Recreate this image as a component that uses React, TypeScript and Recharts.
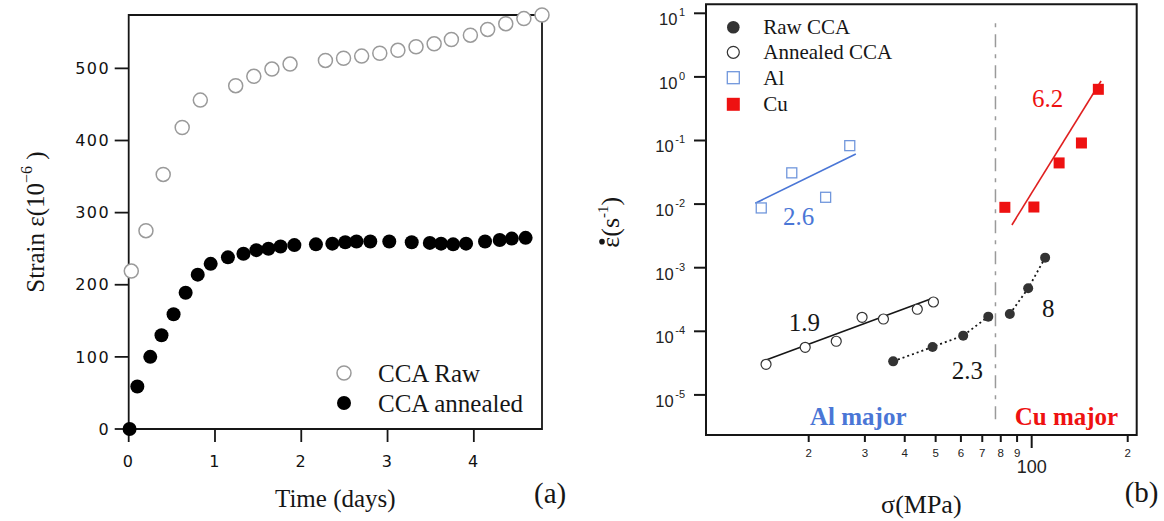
import React from 'react';
import {
  ScatterChart,
  Scatter,
  XAxis,
  YAxis,
  ReferenceArea,
  ReferenceLine,
  ReferenceDot,
  Legend,
  Label,
} from 'recharts';

const SERIF = '"Liberation Serif", "Times New Roman", serif';
const SANS = '"Liberation Sans", Arial, sans-serif';
const DEJAVU = '"DejaVu Sans", sans-serif';

// ---------------- Panel (a) data ----------------
const timeTicks = [0, 1, 2, 3, 4];
const strainTicks = [0, 100, 200, 300, 400, 500];
const timeDomain = [0, 4.79];
const strainDomain = [0, 574];

const ccaRaw = [
  { t: 0.03, strain: 219 },
  { t: 0.2, strain: 275 },
  { t: 0.4, strain: 353 },
  { t: 0.62, strain: 418 },
  { t: 0.83, strain: 456 },
  { t: 1.24, strain: 476 },
  { t: 1.45, strain: 489 },
  { t: 1.66, strain: 499 },
  { t: 1.87, strain: 506 },
  { t: 2.28, strain: 511 },
  { t: 2.49, strain: 514 },
  { t: 2.7, strain: 517 },
  { t: 2.91, strain: 521 },
  { t: 3.12, strain: 525 },
  { t: 3.33, strain: 530 },
  { t: 3.54, strain: 534 },
  { t: 3.74, strain: 540 },
  { t: 3.96, strain: 546 },
  { t: 4.16, strain: 554 },
  { t: 4.37, strain: 562 },
  { t: 4.58, strain: 569 },
  { t: 4.79, strain: 574 },
];

const ccaAnnealed = [
  { t: 0.01, strain: 0 },
  { t: 0.1, strain: 59 },
  { t: 0.25, strain: 100 },
  { t: 0.38, strain: 130 },
  { t: 0.52, strain: 159 },
  { t: 0.66, strain: 189 },
  { t: 0.8, strain: 214 },
  { t: 0.95, strain: 229 },
  { t: 1.15, strain: 238 },
  { t: 1.33, strain: 243 },
  { t: 1.48, strain: 248 },
  { t: 1.62, strain: 250 },
  { t: 1.76, strain: 253 },
  { t: 1.92, strain: 255 },
  { t: 2.17, strain: 256 },
  { t: 2.36, strain: 257 },
  { t: 2.51, strain: 259 },
  { t: 2.64, strain: 260 },
  { t: 2.8, strain: 260 },
  { t: 3.02, strain: 260 },
  { t: 3.28, strain: 259 },
  { t: 3.49, strain: 258 },
  { t: 3.62, strain: 257 },
  { t: 3.76, strain: 256 },
  { t: 3.91, strain: 257 },
  { t: 4.13, strain: 260 },
  { t: 4.3, strain: 262 },
  { t: 4.44, strain: 264 },
  { t: 4.6, strain: 265 },
];

const legendA = ['CCA Raw', 'CCA annealed'];

// ---------------- Panel (b) data ----------------
const sigmaDomain = [9.53, 213.4];
const rateDomain = [2.342e-6, 13.85];
const sigmaTicks = [20, 30, 40, 50, 60, 70, 80, 90, 100, 200];
const sigmaTickLabels = ['2', '3', '4', '5', '6', '7', '8', '9', '100', '2'];
const rateTicks = [1e-5, 1e-4, 1e-3, 1e-2, 1e-1, 1, 10];
const rateTickExponents = ['-5', '-4', '-3', '-2', '-1', '0', '1'];

const rawCCALow = [
  { sigma: 36.8, rate: 3.37e-5 },
  { sigma: 48.9, rate: 5.68e-5 },
  { sigma: 61.0, rate: 8.55e-5 },
  { sigma: 73.1, rate: 1.7e-4 },
];
const rawCCAHigh = [
  { sigma: 85.4, rate: 1.87e-4 },
  { sigma: 97.5, rate: 4.74e-4 },
  { sigma: 110.2, rate: 1.44e-3 },
];
const annealedCCA = [
  { sigma: 14.7, rate: 3.03e-5 },
  { sigma: 19.5, rate: 5.6e-5 },
  { sigma: 24.4, rate: 6.97e-5 },
  { sigma: 29.4, rate: 1.66e-4 },
  { sigma: 34.3, rate: 1.56e-4 },
  { sigma: 43.8, rate: 2.22e-4 },
  { sigma: 49.2, rate: 2.89e-4 },
];
const alData = [
  { sigma: 14.2, rate: 0.0087 },
  { sigma: 17.7, rate: 0.031 },
  { sigma: 22.6, rate: 0.0128 },
  { sigma: 26.9, rate: 0.083 },
];
const cuData = [
  { sigma: 82.4, rate: 0.0089 },
  { sigma: 101.6, rate: 0.009 },
  { sigma: 121.9, rate: 0.0444 },
  { sigma: 143.2, rate: 0.0914 },
  { sigma: 161.8, rate: 0.638 },
];
const annealedFit = [
  { sigma: 14.7, rate: 3.54e-5 },
  { sigma: 48.9, rate: 3.3e-4 },
];
const alFit = [
  { sigma: 13.6, rate: 0.0103 },
  { sigma: 28.1, rate: 0.0614 },
];
const cuFit = [
  { sigma: 86.7, rate: 0.0047 },
  { sigma: 165, rate: 0.863 },
];
const boundary = [
  { sigma: 77, rate: 7.0 },
  { sigma: 77, rate: 3.6e-6 },
];

const annotationsB = [
  { sigma: 18.6, rate: 6.3e-3, text: '2.6', group: 'al' },
  { sigma: 112.2, rate: 0.461, text: '6.2', group: 'cu' },
  { sigma: 19.4, rate: 1.34e-4, text: '1.9', group: 'cca' },
  { sigma: 62.9, rate: 2.4e-5, text: '2.3', group: 'cca' },
  { sigma: 112.8, rate: 2.3e-4, text: '8', group: 'cca' },
  { sigma: 28.6, rate: 4.54e-6, text: 'Al major', group: 'alRegion' },
  { sigma: 128.5, rate: 4.54e-6, text: 'Cu major', group: 'cuRegion' },
];

const legendB = ['Raw CCA', 'Annealed CCA', 'Al', 'Cu'];

// ---------------- styles ----------------
const BLUE = '#4a76d6';
const BLUE_LIGHT = '#7197dc';
const RED = '#ee1111';
const INK = '#161616';
const annotationStyle: Record<string, { fill: string; weight: number }> = {
  al: { fill: BLUE, weight: 400 },
  cu: { fill: RED, weight: 400 },
  cca: { fill: INK, weight: 400 },
  alRegion: { fill: BLUE, weight: 700 },
  cuRegion: { fill: RED, weight: 700 },
};

// shapes
const openCircleA = (p: any) => (
  <circle cx={p.cx} cy={p.cy} r={7} fill="#fff" stroke="#9a9a9a" strokeWidth={1.5} />
);
const filledCircleA = (p: any) => <circle cx={p.cx} cy={p.cy} r={7} fill="#000" />;
const filledCircleB = (p: any) => <circle cx={p.cx} cy={p.cy} r={5} fill="#333" />;
const openCircleB = (p: any) => (
  <circle cx={p.cx} cy={p.cy} r={5} fill="#fff" stroke="#333" strokeWidth={1.2} />
);
const openSquareB = (p: any) => (
  <rect x={p.cx - 5} y={p.cy - 5} width={10} height={10} fill="none" stroke={BLUE_LIGHT} strokeWidth={1.3} />
);
const filledSquareB = (p: any) => (
  <rect x={p.cx - 5.5} y={p.cy - 5.5} width={11} height={11} fill={RED} />
);
const noShape = () => <g />;

// ---------------- labels ----------------
const YLabelA = (props: any) => {
  const vb = props.viewBox || { x: 28.7, y: 15, width: 100, height: 414 };
  const cx = vb.x + 15.3;
  const cy = vb.y + vb.height / 2;
  return (
    <text
      transform={`translate(${cx},${cy}) rotate(-90)`}
      textAnchor="middle"
      fontFamily={SERIF}
      fontSize={25}
      fill={INK}
    >
      <tspan>Strain ε(10</tspan>
      <tspan fontSize={16} dy={-12}>−6</tspan>
      <tspan dy={12}> )</tspan>
    </text>
  );
};

const XLabelA = (props: any) => {
  const vb = props.viewBox || { x: 128.7, y: 429, width: 413.3, height: 60 };
  return (
    <text x={vb.x + vb.width / 2} y={vb.y + 78} textAnchor="middle" fontFamily={SERIF} fontSize={25} fill={INK}>
      Time (days)
    </text>
  );
};

const PanelTagA = (props: any) => {
  const vb = props.viewBox || { x: 128.7, y: 429, width: 413.3, height: 60 };
  return (
    <text x={vb.x + vb.width - 8} y={vb.y + 74} fontFamily={SERIF} fontSize={29} fill={INK}>
      (a)
    </text>
  );
};

const YLabelB = (props: any) => {
  const vb = props.viewBox || { x: 606, y: 4.3, width: 100, height: 430.7 };
  const cx = vb.x + 13;
  const cy = vb.y + vb.height / 2;
  return (
    <g transform={`translate(${cx},${cy}) rotate(-90)`}>
      <text x={-28} y={0} fontFamily={SERIF} fontSize={26} fill={INK}>
        <tspan>ε(s</tspan>
        <tspan fontSize={15} dy={-11}>-1</tspan>
        <tspan dy={11}>)</tspan>
      </text>
      <circle cx={-22} cy={-17} r={2.8} fill={INK} />
    </g>
  );
};

const XLabelB = (props: any) => {
  const vb = props.viewBox || { x: 706, y: 435, width: 430.7, height: 60 };
  return (
    <text x={vb.x + vb.width / 2} y={vb.y + 78} textAnchor="middle" fontFamily={SERIF} fontSize={26} fill={INK}>
      σ(MPa)
    </text>
  );
};

const PanelTagB = (props: any) => {
  const vb = props.viewBox || { x: 706, y: 435, width: 430.7, height: 60 };
  return (
    <text x={vb.x + vb.width - 12} y={vb.y + 67} fontFamily={SERIF} fontSize={29} fill={INK}>
      (b)
    </text>
  );
};

// ---------------- ticks for (b) ----------------
const SigmaTick = (props: any) => {
  const { x, y, index } = props;
  const major = sigmaTicks[index] === 100;
  return (
    <g>
      <line x1={x} x2={x} y1={y} y2={y + (major ? 13 : 7)} stroke={INK} strokeWidth={2} />
      <text
        x={x}
        y={y + (major ? 38 : 22)}
        textAnchor="middle"
        fontFamily={SANS}
        fontSize={major ? 18 : 11.5}
        fill="#222"
      >
        {sigmaTickLabels[index]}
      </text>
    </g>
  );
};

const RateTick = (props: any) => {
  const { x, y, index } = props;
  return (
    <g>
      <line x1={x - 12} x2={x} y1={y} y2={y} stroke={INK} strokeWidth={2} />
      <text x={x - 21} y={y + 12} textAnchor="end" fontFamily={SANS} fill="#222">
        <tspan fontSize={16.5}>10</tspan>
        <tspan fontSize={11} dy={-9} dx={1.5}>{rateTickExponents[index]}</tspan>
      </text>
    </g>
  );
};

// ---------------- legends ----------------
const LegendContentA = () => (
  <svg width={250} height={70} style={{ display: 'block', overflow: 'visible' }}>
    <circle cx={14} cy={18} r={7} fill="#fff" stroke="#9a9a9a" strokeWidth={1.5} />
    <circle cx={14} cy={48} r={7} fill="#000" />
    <text x={48} y={26.5} fontFamily={SERIF} fontSize={25} fill={INK}>{legendA[0]}</text>
    <text x={48} y={56.5} fontFamily={SERIF} fontSize={25} fill={INK}>{legendA[1]}</text>
  </svg>
);

const LegendContentB = () => (
  <svg width={180} height={110} style={{ display: 'block', overflow: 'visible' }}>
    <circle cx={13.3} cy={17.3} r={6.3} fill="#333" />
    <circle cx={13.3} cy={42.3} r={6} fill="#fff" stroke="#333" strokeWidth={1.2} />
    <rect x={7.3} y={61.7} width={12} height={12} fill="none" stroke={BLUE_LIGHT} strokeWidth={1.3} />
    <rect x={6.8} y={87.8} width={13} height={13} fill={RED} />
    {legendB.map((name, i) => (
      <text key={name} x={43.3} y={23.5 + i * 25.8} fontFamily={SERIF} fontSize={21} fill={INK}>
        {name}
      </text>
    ))}
  </svg>
);

const makeAnnotationShape = (a: any) => (p: any) => {
  const st = annotationStyle[a.group];
  return (
    <text
      x={p.cx}
      y={p.cy + 25 * 0.33}
      textAnchor="middle"
      fontFamily={SERIF}
      fontSize={25}
      fontWeight={st.weight}
      fill={st.fill}
    >
      {a.text}
    </text>
  );
};

export default function App() {
  return (
    <div style={{ position: 'absolute', left: 0, top: 0, width: 1164, height: 521, background: '#fff' }}>
      {/* Panel (a) */}
      <div style={{ position: 'absolute', left: 0, top: 0 }}>
        <ScatterChart
          width={1164}
          height={521}
          margin={{ top: 15, right: 622, left: 28.7, bottom: 32 }}
        >
          <XAxis
            type="number"
            dataKey="t"
            domain={timeDomain}
            ticks={timeTicks}
            interval={0}
            height={60}
            axisLine={false}
            tickSize={13}
            tickMargin={14}
            tickLine={{ stroke: INK, strokeWidth: 1.8 }}
            tick={{ fill: '#111', fontSize: 16, fontFamily: DEJAVU, letterSpacing: 1.5 }}
          >
            <Label content={XLabelA} />
            <Label content={PanelTagA} />
          </XAxis>
          <YAxis
            type="number"
            dataKey="strain"
            domain={strainDomain}
            ticks={strainTicks}
            interval={0}
            width={100}
            axisLine={false}
            tickSize={14}
            tickMargin={4.5}
            tickLine={{ stroke: INK, strokeWidth: 1.8 }}
            tick={{ fill: '#111', fontSize: 16, fontFamily: DEJAVU, letterSpacing: 1.5 }}
          >
            <Label content={YLabelA} />
          </YAxis>
          <ReferenceArea
            x1={timeDomain[0]}
            x2={timeDomain[1]}
            y1={strainDomain[0]}
            y2={strainDomain[1]}
            fill="none"
            fillOpacity={0}
            stroke={INK}
            strokeWidth={1.8}
            ifOverflow="visible"
          />
          <Scatter name={legendA[1]} data={ccaAnnealed} shape={filledCircleA} isAnimationActive={false} />
          <Scatter name={legendA[0]} data={ccaRaw} shape={openCircleA} isAnimationActive={false} />
          <Legend
            layout="vertical"
            align="center"
            verticalAlign="middle"
            wrapperStyle={{ left: 330, top: 355, width: 250, height: 70 }}
            content={LegendContentA}
          />
        </ScatterChart>
      </div>

      {/* Panel (b) */}
      <div style={{ position: 'absolute', left: 0, top: 0 }}>
        <ScatterChart
          width={1164}
          height={521}
          margin={{ top: 4.3, right: 27.3, left: 606, bottom: 26 }}
        >
          <XAxis
            type="number"
            dataKey="sigma"
            scale="log"
            domain={sigmaDomain}
            ticks={sigmaTicks}
            interval={0}
            height={60}
            axisLine={false}
            tickLine={false}
            tickSize={0}
            tickMargin={0}
            tick={<SigmaTick />}
          >
            <Label content={XLabelB} />
            <Label content={PanelTagB} />
          </XAxis>
          <YAxis
            type="number"
            dataKey="rate"
            scale="log"
            domain={rateDomain}
            ticks={rateTicks}
            interval={0}
            width={100}
            axisLine={false}
            tickLine={false}
            tickSize={0}
            tickMargin={0}
            tick={<RateTick />}
          >
            <Label content={YLabelB} />
          </YAxis>
          <ReferenceArea
            x1={sigmaDomain[0]}
            x2={sigmaDomain[1]}
            y1={rateDomain[0]}
            y2={rateDomain[1]}
            fill="none"
            fillOpacity={0}
            stroke={INK}
            strokeWidth={2}
            ifOverflow="visible"
          />
          <ReferenceLine
            segment={[
              { x: boundary[0].sigma, y: boundary[0].rate },
              { x: boundary[1].sigma, y: boundary[1].rate },
            ]}
            stroke="#9a9a9a"
            strokeWidth={1.5}
            strokeDasharray="4 7 13 7"
            ifOverflow="visible"
          />
          <Scatter data={alFit} shape={noShape} line={{ stroke: BLUE, strokeWidth: 1.6 }} isAnimationActive={false} />
          <Scatter data={cuFit} shape={noShape} line={{ stroke: '#e02020', strokeWidth: 1.6 }} isAnimationActive={false} />
          <Scatter data={annealedFit} shape={noShape} line={{ stroke: INK, strokeWidth: 1.6 }} isAnimationActive={false} />
          <Scatter
            data={rawCCALow}
            shape={noShape}
            line={{ stroke: INK, strokeWidth: 1.8, strokeDasharray: '2 3' }}
            isAnimationActive={false}
          />
          <Scatter
            data={rawCCAHigh}
            shape={noShape}
            line={{ stroke: INK, strokeWidth: 1.8, strokeDasharray: '2 3' }}
            isAnimationActive={false}
          />
          <Scatter name={legendB[2]} data={alData} shape={openSquareB} isAnimationActive={false} />
          <Scatter name={legendB[3]} data={cuData} shape={filledSquareB} isAnimationActive={false} />
          <Scatter name={legendB[1]} data={annealedCCA} shape={openCircleB} isAnimationActive={false} />
          <Scatter name={legendB[0]} data={rawCCALow} shape={filledCircleB} isAnimationActive={false} />
          <Scatter data={rawCCAHigh} shape={filledCircleB} isAnimationActive={false} />
          {annotationsB.map((a) => (
            <ReferenceDot
              key={a.text}
              x={a.sigma}
              y={a.rate}
              r={0}
              ifOverflow="visible"
              shape={makeAnnotationShape(a)}
            />
          ))}
          <Legend
            layout="vertical"
            align="center"
            verticalAlign="middle"
            wrapperStyle={{ left: 720, top: 10, width: 180, height: 110 }}
            content={LegendContentB}
          />
        </ScatterChart>
      </div>
    </div>
  );
}
